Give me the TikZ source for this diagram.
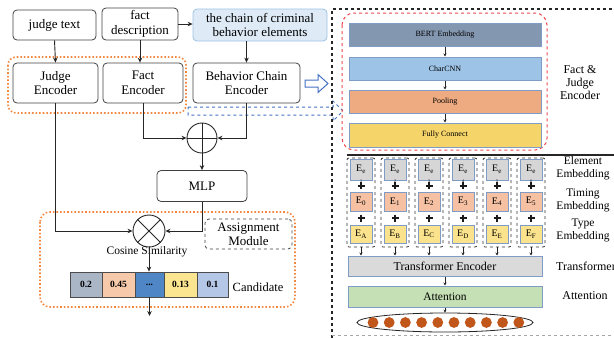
\documentclass[tikz,border=0pt]{standalone}
\usepackage{fontspec}
\setmainfont{Liberation Serif}
\usetikzlibrary{arrows.meta,shapes.geometric,calc}
\definecolor{orangedot}{HTML}{F4873F}
\definecolor{reddash}{HTML}{F0464B}
\definecolor{bluedash}{HTML}{4472C4}
\definecolor{bord}{HTML}{7E9CC6}
\definecolor{chainfill}{HTML}{DEEBF7}
\definecolor{chainbord}{HTML}{9DC3E6}
\definecolor{bertc}{HTML}{8497B0}
\definecolor{cnnc}{HTML}{9DC3E6}
\definecolor{poolc}{HTML}{EEAA80}
\definecolor{fcc}{HTML}{F5D46A}
\definecolor{elc}{HTML}{D6D6D6}
\definecolor{tic}{HTML}{F6C0A2}
\definecolor{tyc}{HTML}{FBE38D}
\definecolor{trc}{HTML}{DADADA}
\definecolor{atc}{HTML}{C5E0B4}
\definecolor{dotc}{HTML}{C0561A}
\definecolor{cA}{HTML}{AAB6C6}
\definecolor{cB}{HTML}{F6C9AA}
\definecolor{cC}{HTML}{4F86C6}
\definecolor{cD}{HTML}{FBE590}
\definecolor{cE}{HTML}{B4C7E7}
\begin{document}
\begin{tikzpicture}[x=1pt,y=-1pt,
  box/.style={draw=black!75, rounded corners=4pt, line width=0.8pt, align=center,
    font=\fontsize{13}{14.5}\selectfont, inner sep=0pt},
  arr/.style={-{Stealth[length=5pt,width=4.5pt]}, line width=0.9pt, black!85},
  sarr/.style={-{Stealth[length=3pt,width=3pt]}, line width=0.6pt, black!85},
  layer/.style={draw=bord, line width=1pt, minimum width=192pt, inner sep=0pt,
    font=\fontsize{8}{9}\selectfont},
  ebox/.style={draw=bord, line width=1pt, minimum width=22pt, inner sep=0pt,
    font=\fontsize{10}{11}\selectfont},
  colbox/.style={draw=black!80, dashed, line width=0.8pt, rounded corners=2pt,
    minimum width=28pt, minimum height=89pt, inner sep=0pt},
  cell/.style={draw=black!70, line width=0.8pt, minimum height=25pt, inner sep=0pt,
    font=\fontsize{9.5}{10}\selectfont\bfseries},
  lab/.style={align=center, font=\fontsize{12}{13}\selectfont, inner sep=0pt},
  plusmark/.style={line width=2pt, black!90}
]
\useasboundingbox (0,0) rectangle (614,338);

% ---- left part ----
\node[box, minimum width=83pt, minimum height=30pt] (jt) at (54.5,25) {judge text};
\node[box, minimum width=76pt, minimum height=32pt] (fd) at (140,24) {fact\\description};
\node[box, draw=chainbord, fill=chainfill, minimum width=134pt, minimum height=32pt] (chain) at (260,25) {the chain of criminal\\behavior elements};
\node[box, minimum width=85pt, minimum height=40pt] (je) at (55.5,83) {Judge\\Encoder};
\node[box, minimum width=80pt, minimum height=40pt] (fe) at (143,83) {Fact\\Encoder};
\node[box, minimum width=107pt, minimum height=40pt] (bce) at (246.5,83) {Behavior Chain\\Encoder};
\draw[orangedot, dotted, line width=1.6pt, rounded corners=8pt] (8,57) rectangle (186,113);

\draw[arr] (jt.south) -- (je.north);
\draw[arr] (fd.south) -- (fd.south |- fe.north);
\draw[arr] (fd.east) -- (fd.east -| chain.west);
\draw[arr] (bce.north |- chain.south) -- (bce.north);

% hollow blue arrow
\draw[bluedash, line width=1pt, fill=white] (305,80) -- (318,80) -- (318,74.5) -- (328,83.5) -- (318,92.5) -- (318,87) -- (305,87) -- cycle;
% dashed blue arrow
\draw[bluedash, dashed, line width=1pt] (188,107) -- (333,107) -- (333,101) -- (343,111) -- (333,121) -- (333,115) -- (188,115) -- cycle;

\node[draw=black!85, line width=0.9pt, circle, minimum size=30pt, inner sep=0pt] (op) at (202,138) {};
\draw[line width=0.9pt, black!85] (op.north) -- (op.south) (op.west) -- (op.east);
\draw[arr] (fe.south) |- (op.west);
\draw[arr] (bce.south) |- (op.east);

\node[box, minimum width=90pt, minimum height=31pt] (mlp) at (202,186) {MLP};
\draw[arr] (op.south) -- (mlp.north);

\node[draw=black!85, line width=0.9pt, circle, minimum size=32pt, inner sep=0pt] (ot) at (149,231) {};
\draw[line width=0.9pt, black!85] (ot.north west) -- (ot.south east) (ot.north east) -- (ot.south west);
\draw[arr] (je.south) |- (ot.west);
\draw[arr] (mlp.south) |- (ot.east);
\node[lab, font=\fontsize{11.5}{12}\selectfont] (cos) at (147,252) {Cosine Similarity};

\node[draw=black!75, dashed, line width=0.8pt, rounded corners=4pt, align=center,
  minimum width=87pt, minimum height=30pt, inner sep=0pt, font=\fontsize{13}{14}\selectfont] (asg) at (248.5,234) {Assignment\\Module};
\draw[orangedot, dotted, line width=1.6pt, rounded corners=10pt] (40,212) rectangle (295,307);

\node[cell, fill=cA, minimum width=32pt] (c1) at (86,284.5) {0.2};
\node[cell, fill=cB, minimum width=33pt] (c2) at (118.5,284.5) {0.45};
\node[cell, fill=cC, minimum width=29pt] (c3) at (149.5,284.5) {...};
\node[cell, fill=cD, minimum width=33pt] (c4) at (180.5,284.5) {0.13};
\node[cell, fill=cE, minimum width=31pt] (c5) at (212.5,284.5) {0.1};
\node[lab, font=\fontsize{12.5}{13}\selectfont] (cand) at (258,287) {Candidate};
\draw[arr] (ot.south) -- (ot.south |- c3.north);
\coordinate (outend) at (149.5,316);
\draw[arr] (c3.south) -- (outend);

% ---- right panel ----
\draw[dashed, line width=1.2pt, black!85] (332,338) -- (332,9) -- (614,9);
\draw[dashed, line width=0.8pt, black!35] (332,335) -- (614,335);
\draw[reddash, dashed, line width=1pt, rounded corners=12pt] (342,13) rectangle (547,150);

\node[layer, fill=bertc, minimum height=23pt] (bert) at (445,34.5) {BERT Embedding};
\node[layer, fill=cnnc, minimum height=23pt] (cnn) at (445,68.5) {CharCNN};
\node[layer, fill=poolc, minimum height=23pt] (pool) at (445,101.5) {Pooling};
\node[layer, fill=fcc, minimum height=24pt] (fc) at (445,135) {Fully Connect};
\draw[sarr] (bert.south) -- (cnn.north);
\draw[sarr] (cnn.south) -- (pool.north);
\draw[sarr] (pool.south) -- (fc.north);
\node[lab] (fje) at (580,83) {Fact \&\\Judge\\Encoder};

\draw[line width=1.3pt, black!85] (347,155) -- (614,155);

\node[layer, fill=trc, minimum width=194pt, minimum height=20pt, font=\fontsize{12}{13}\selectfont] (tr) at (445,266) {Transformer Encoder};
\node[layer, fill=atc, minimum width=194pt, minimum height=21pt, font=\fontsize{11.5}{12}\selectfont] (att) at (445,296.5) {Attention};
\node[draw=black!85, line width=0.8pt, ellipse, minimum width=176pt, minimum height=19pt, inner sep=0pt] (outv) at (445,322.5) {};
\foreach \i in {0,...,9} \fill[dotc] (373+\i*16.2,322.5) circle (5.4);
\draw[sarr] (tr.south) -- (att.north);
\draw[sarr] (att.south) -- (outv.north);

\foreach \x/\n/\t [count=\k] in {361/0/A,395/1/B,429/2/C,463/3/D,497/4/E,531/5/F}{
  \node[colbox] (col\k) at (\x,202.5) {};
  \node[ebox, fill=elc, minimum height=21pt] (el\k) at (\x,169.5) {E\textsubscript{e}};
  \node[font=\fontsize{4}{4}\selectfont, inner sep=0pt] (num\k) at (\x,181.5) {\k};
  \draw[plusmark] (\x-3.5,185.5) -- (\x+3.5,185.5) (\x,182) -- (\x,189);
  \node[ebox, fill=tic, minimum height=19pt] (ti\k) at (\x,201.5) {E\textsubscript{\n}};
  \draw[plusmark] (\x-3.5,218) -- (\x+3.5,218) (\x,214.5) -- (\x,221.5);
  \node[ebox, fill=tyc, minimum height=18pt] (ty\k) at (\x,234) {E\textsubscript{\t}};
  \draw[sarr] (col\k.south) -- (col\k.south |- tr.north);
}

\node[lab, font=\fontsize{11.5}{13}\selectfont] (lel) at (583,168.5) {Element\\Embedding};
\node[lab, font=\fontsize{11.5}{13}\selectfont] (lti) at (583,200.5) {Timing\\Embedding};
\node[lab, font=\fontsize{11.5}{13}\selectfont] (lty) at (583,230) {Type\\Embedding};
\node[lab, anchor=west] (ltr) at (556,266) {Transformer};
\node[lab] (lat) at (585,296) {Attention};
\end{tikzpicture}
\end{document}
